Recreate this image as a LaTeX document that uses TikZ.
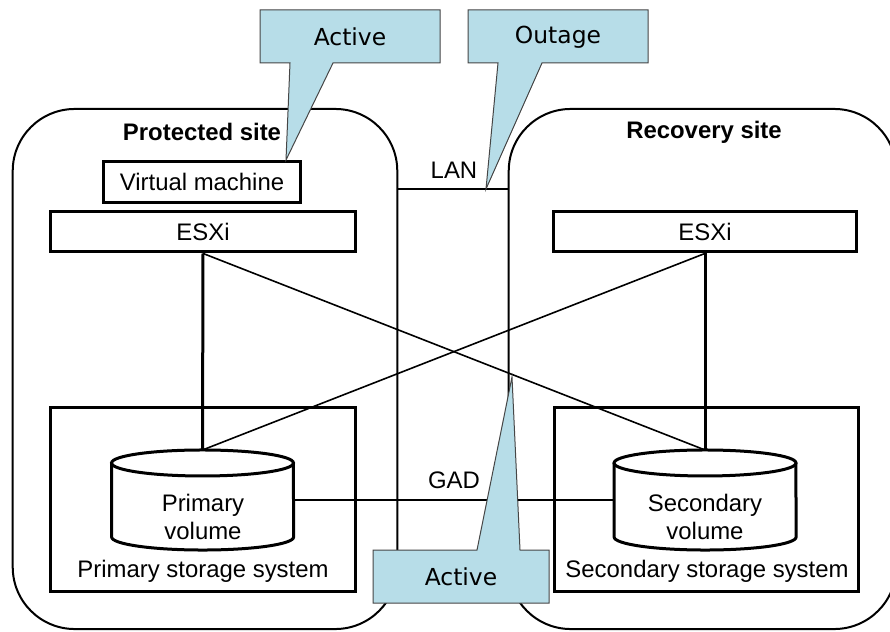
\documentclass[tikz,border=0pt]{standalone}
\usepackage{fontspec}
\setmainfont{Liberation Sans}
\newfontfamily\dvsans{DejaVu Sans}
\usetikzlibrary{calc}
\definecolor{callfill}{RGB}{183,221,232}
\definecolor{callline}{RGB}{70,70,70}
\newcommand\drawcyl[1]{%
  \draw[line width=3bp, fill=white] ([yshift=-13bp]#1.north) ellipse [x radius=91, y radius=13];
  \draw[line width=3bp] ([yshift=-13bp]#1.north west) -- ([yshift=13bp]#1.south west)
     arc[start angle=180, end angle=0, x radius=91, y radius=13] -- ([yshift=-13bp]#1.north east);}
\begin{document}
\begin{tikzpicture}[x=1bp,y=-1bp,
  site/.style={draw, line width=2bp, rounded corners=62bp, inner sep=0},
  box/.style={draw, line width=3bp, inner sep=0, font=\fontsize{24}{28}\selectfont},
  lbl/.style={inner sep=0, font=\fontsize{24}{29}\selectfont, align=center},
  cylbase/.style={inner sep=0, fill=white},
  thicklink/.style={line width=3bp},
  thinlink/.style={line width=1.6bp},
  callout/.style={fill=callfill, draw=callline, line width=1bp, line join=miter},
  ctext/.style={inner sep=0, font=\dvsans\fontsize{23.5}{28}\selectfont}]
\clip (0,0) rectangle (890,632);
\fill[white] (0,0) rectangle (890,632);
% sites
\node[site, minimum width=386, minimum height=522] (ps) at (205,369) {};
\node[site, minimum width=389, minimum height=522] (rs) at (702.5,369) {};
\node[lbl, font=\bfseries\fontsize{24}{28}\selectfont] (pst) at (202,132) {Protected site};
\node[lbl, font=\bfseries\fontsize{24}{28}\selectfont] (rst) at (704,132) {Recovery site};
% LAN
\coordinate (lany) at (0,189);
\draw[thinlink] (ps.east |- lany) -- (rs.west |- lany);
\node[lbl] (lan) at (454,170) {LAN};
% boxes
\node[box, minimum width=198, minimum height=42] (vm) at (202,182) {Virtual machine};
\node[box, minimum width=306, minimum height=41] (esxl) at (203,231.5) {ESXi};
\node[box, minimum width=305, minimum height=41] (esxr) at (705,231.5) {ESXi};
\node[box, minimum width=306, minimum height=185] (stl) at (203,499.5) {};
\node[box, minimum width=305, minimum height=185] (str) at (706.5,499.5) {};
\node[lbl] (stlt) at (203,571) {Primary storage system};
\node[lbl] (strt) at (707,571) {Secondary storage system};
% cylinder anchors
\node[inner sep=0, minimum width=182, minimum height=100] (pv) at (202.5,500) {};
\node[inner sep=0, minimum width=182, minimum height=100] (sv) at (705,500) {};
% links
\draw[thicklink] (esxl.south) -- (pv.north);
\draw[thicklink] (esxr.south) -- (sv.north);
\draw[thinlink] (esxl.south) -- (sv.north);
\draw[thinlink] (esxr.south) -- (pv.north);
\draw[thinlink] (pv.east) -- (sv.west);
\node[lbl] (gad) at (454,480) {GAD};
% cylinders
\drawcyl{pv}
\drawcyl{sv}
\node[lbl] (pvt) at (203,517) {Primary\\volume};
\node[lbl] (svt) at (705,517) {Secondary\\volume};
% callouts
\draw[callout] (260,10) -- (440,10) -- (440,63) -- (333,63) -- (286,160) -- (290,63) -- (260,63) -- cycle;
\node[ctext] (c1) at (350,37) {Active};
\draw[callout] (468,10) -- (648,10) -- (648,63) -- (542,63) -- (486,189) -- (498,63) -- (468,63) -- cycle;
\node[ctext] (c2) at (558,37) {Outage};
\draw[callout] (373,550) -- (477,550) -- (512,377) -- (520,550) -- (549,550) -- (549,603) -- (373,603) -- cycle;
\node[ctext] (c3) at (461,577) {Active};
\end{tikzpicture}
\end{document}
